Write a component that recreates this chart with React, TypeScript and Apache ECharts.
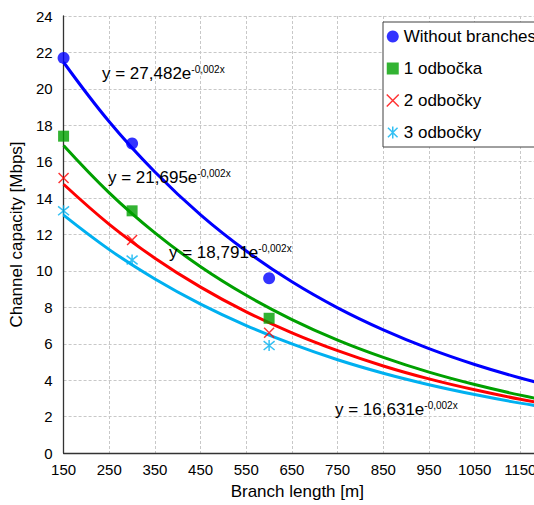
import React, { useEffect, useRef } from "react";
import * as echarts from "echarts";

// ---- data ----
const X_START = 150; // first x tick (axis is drawn with an offset so ticks run 150, 250, ...)
const xTickStep = 100;
const xAxisEnd = 1250;

const seriesNames = ["Without branches", "1 odbočka", "2 odbočky", "3 odbočky"];
const seriesColors = ["#0000FF", "#00A000", "#FF0000", "#00B0F0"];

// measured points
const xPoints = [150, 300, 600];
const withoutBranches = [21.7, 17.0, 9.6];
const odbocka1 = [17.4, 13.3, 7.4];
const odbocky2 = [15.1, 11.7, 6.6];
const odbocky3 = [13.3, 10.6, 5.9];

// trend lines
const xTrend = [150, 250, 350, 450, 550, 650, 750, 850, 950, 1050, 1150, 1250];
const trendWithout = [21.46, 18.19, 15.43, 13.08, 11.09, 9.4, 7.97, 6.76, 5.73, 4.86, 4.12, 3.49];
const trend1 = [16.89, 14.29, 12.09, 10.23, 8.66, 7.33, 6.2, 5.25, 4.44, 3.76, 3.18, 2.69];
const trend2 = [14.76, 12.56, 10.7, 9.11, 7.75, 6.6, 5.62, 4.78, 4.07, 3.47, 2.95, 2.51];
const trend3 = [13.06, 11.17, 9.56, 8.18, 7.0, 5.99, 5.12, 4.38, 3.75, 3.21, 2.74, 2.35];

const eqMain = ["y = 27,482e", "y = 21,695e", "y = 18,791e", "y = 16,631e"];
const eqExp = ["-0,002x", "-0,002x", "-0,002x", "-0,002x"];

const FONT = "'Liberation Sans', Arial, sans-serif";
const TXT = "#000";

const xSymbol = "path://M0,0L10,10M10,0L0,10";
const starSymbol = "path://M1,1L9,9M9,1L1,9M5,0L5,10";

export default function App() {
  const ref = useRef<HTMLDivElement>(null);

  useEffect(() => {
    if (!ref.current) return;
    const chart = echarts.init(ref.current, null, { renderer: "svg" });

    const pointSets = [withoutBranches, odbocka1, odbocky2, odbocky3];
    const trendSets = [trendWithout, trend1, trend2, trend3];
    const symbols = ["circle", "rect", xSymbol, starSymbol];
    const symbolSizes = [12, 11, 10, 11];
    const eqPos = [
      [102, 73],
      [108, 177],
      [169, 252],
      [335, 409],
    ];

    const lineSeries = trendSets.map((vals, i) => ({
      type: "line",
      name: "trend" + i,
      data: xTrend.map((x, j) => [x - X_START, vals[j]]),
      smooth: 0.4,
      showSymbol: false,
      symbol: "none",
      lineStyle: { color: seriesColors[i], width: 3 },
      itemStyle: { color: seriesColors[i] },
      z: 2,
      silent: true,
    }));

    const scatterSeries = pointSets.map((vals, i) => {
      const isStroke = i >= 2;
      return {
        type: "scatter",
        name: seriesNames[i],
        data: xPoints.map((x, j) => [x - X_START, vals[j]]),
        symbol: symbols[i],
        symbolSize: symbolSizes[i],
        itemStyle: isStroke
          ? { color: seriesColors[i], borderColor: seriesColors[i], borderWidth: 1.5 }
          : { color: seriesColors[i] },
        z: 3,
        silent: true,
      };
    });

    const option = {
      animation: false,
      backgroundColor: "#fff",
      textStyle: { fontFamily: FONT, color: TXT },
      grid: { left: 61, top: 16, width: 505, height: 437 },
      xAxis: {
        type: "value",
        min: 0,
        max: xAxisEnd - X_START,
        interval: xTickStep,
        name: "Branch length [m]",
        nameLocation: "middle",
        nameGap: 30,
        nameTextStyle: { fontSize: 17, color: TXT, fontFamily: FONT, padding: [0, 35, 0, 0] },
        axisLine: { show: true, lineStyle: { color: "#333", width: 1.3 } },
        axisTick: { show: false },
        axisLabel: {
          fontSize: 15,
          color: TXT,
          fontFamily: FONT,
          margin: 9,
          showMaxLabel: false,
          formatter: (v: number) => String(v + X_START),
        },
        splitLine: { show: true, lineStyle: { color: "#c8c8c8", type: [3, 2], width: 1 } },
      },
      yAxis: {
        type: "value",
        min: 0,
        max: 24,
        interval: 2,
        name: "Channel capacity [Mbps]",
        nameLocation: "middle",
        nameGap: 30,
        nameRotate: 90,
        nameTextStyle: { fontSize: 17, color: TXT, fontFamily: FONT },
        axisLine: { show: true, lineStyle: { color: "#333", width: 1.3 } },
        axisTick: { show: false },
        axisLabel: { fontSize: 15, color: TXT, fontFamily: FONT, margin: 11 },
        splitLine: { show: true, lineStyle: { color: "#c8c8c8", type: [3, 2], width: 1 } },
      },
      legend: {
        orient: "vertical",
        left: 383,
        top: 22,
        padding: [6, 30, 6, 3],
        itemGap: 15,
        itemWidth: 12,
        itemHeight: 12,
        borderColor: "#404040",
        borderWidth: 1,
        backgroundColor: "#fff",
        textStyle: { fontSize: 17, color: TXT, fontFamily: FONT },
        data: seriesNames.map((n, i) => ({
          name: n,
          icon: symbols[i],
          itemStyle:
            i >= 2
              ? { color: seriesColors[i], borderColor: seriesColors[i], borderWidth: 1.5 }
              : { color: seriesColors[i], borderWidth: 0 },
        })),
      },
      graphic: eqMain.map((t, i) => ({
        type: "text",
        x: eqPos[i][0],
        y: eqPos[i][1],
        z: 10,
        style: {
          text: "{m|" + t + "}{s|" + eqExp[i] + "}",
          verticalAlign: "middle",
          align: "left",
          rich: {
            m: { fontSize: 17, fontFamily: FONT, fill: TXT },
            s: { fontSize: 10, fontFamily: FONT, fill: TXT, verticalAlign: "top", padding: [0, 0, 0, 0] },
          },
        },
      })),
      series: [...lineSeries, ...scatterSeries],
    };

    chart.setOption(option as any);
    return () => chart.dispose();
  }, []);

  return (
    <div
      style={{
        position: "fixed",
        left: 0,
        top: 0,
        width: 534,
        height: 505,
        overflow: "hidden",
        background: "#fff",
      }}
    >
      <div ref={ref} style={{ width: 600, height: 505 }} />
    </div>
  );
}
